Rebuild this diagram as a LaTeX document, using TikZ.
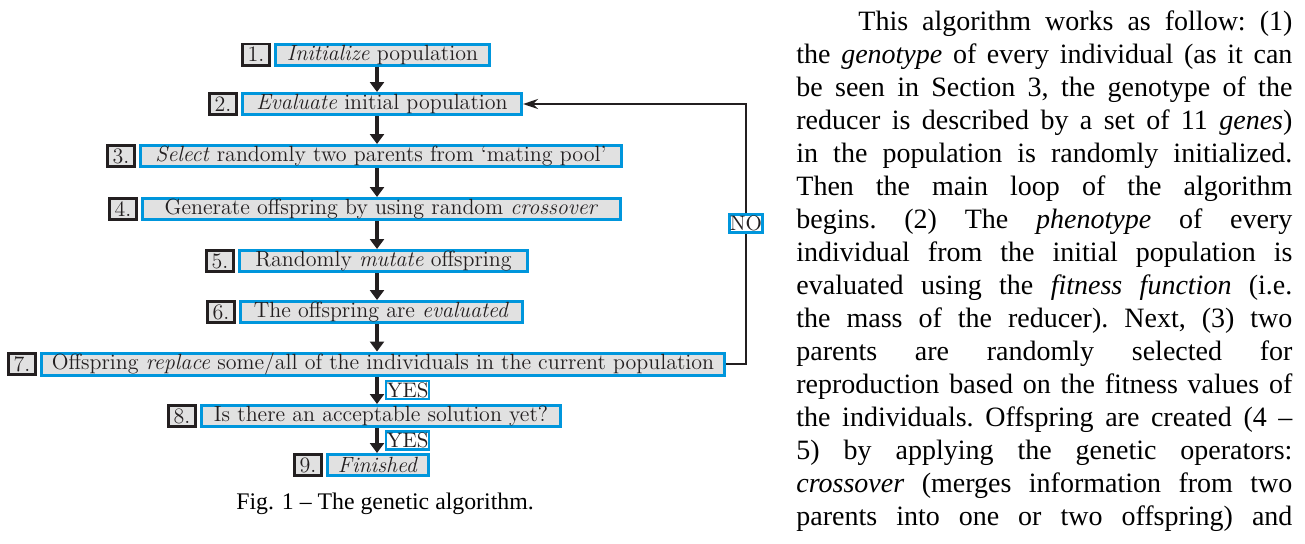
\documentclass[tikz,border=0pt]{standalone}
\usepackage{fontspec}
\newfontfamily\bodyfont{Liberation Serif}
\usepackage{tikz}
\usetikzlibrary{arrows.meta, positioning}
\definecolor{boxblue}{RGB}{0,150,220}
\definecolor{boxgray}{RGB}{225,225,225}
\definecolor{inkblack}{RGB}{35,31,32}
\newcommand{\flowfont}{\fontsize{11}{12}\selectfont}
\newcommand{\tagfont}{\fontsize{10.5}{11}\selectfont}

\begin{document}
\begin{tikzpicture}[
    x=0.5pt, y=-0.5pt,
    stage/.style={draw=boxblue, line width=1.5pt, fill=boxgray, text=inkblack, font=\flowfont,
        inner sep=0pt, minimum height=10.5pt, minimum width=#1*0.5pt-1.5pt},
    num/.style={draw=inkblack, line width=1.3pt, fill=boxgray, text=inkblack, font=\flowfont,
        inner sep=0pt, minimum height=10.7pt, minimum width=13.7pt, left=1.5pt of #1},
    tag/.style={draw=boxblue, line width=1.2pt, fill=white, text=inkblack, font=\tagfont,
        inner sep=0.3pt, minimum height=9pt},
    arr/.style={-{Triangle[length=5pt,width=7pt]}, line width=1.7pt, inkblack},
    back/.style={-{Stealth[length=7.5pt,width=5pt]}, line width=1.4pt, inkblack}
]
\useasboundingbox (0,0) rectangle (1305,543);

% flow chart
\node[stage=217] (s1) at (382.5,54.5) {\textit{Initialize} population};
\node[stage=282] (s2) at (382,104) {\textit{Evaluate} initial population};
\node[stage=484] (s3) at (381,156) {\textit{Select} randomly two parents from ‘mating pool’};
\node[stage=481] (s4) at (381.5,209) {Generate offspring by using random \textit{crossover}};
\node[stage=291] (s5) at (383.5,261) {Randomly \textit{mutate} offspring};
\node[stage=285] (s6) at (381.5,312) {The offspring are \textit{evaluated}};
\node[stage=686] (s7) at (383,364) {Offspring \textit{replace} some/all of the individuals in the current population};
\node[stage=362] (s8) at (381,416) {Is there an acceptable solution yet?};
\node[stage=104] (s9) at (378,465) {\textit{Finished}};

\foreach \i in {1,...,9}
    \node[num=s\i] (n\i) {\i.};

\coordinate (spine) at (377,0);
\coordinate (loop) at (746,0);

\foreach \a/\b in {s1/s2, s2/s3, s3/s4, s4/s5, s5/s6, s6/s7}
    \draw[arr] (\a.south -| spine) -- (\b.north -| spine);
\draw[arr] (s7.south -| spine) -- node[tag, right=4pt] (yes1) {YES} (s8.north -| spine);
\draw[arr] (s8.south -| spine) -- node[tag, right=4pt] (yes2) {YES} (s9.north -| spine);

\draw[back] (s7.east) -- (s7.east -| loop) -- node[tag, pos=0.54] (no) {NO} (s2.east -| loop) -- (s2.east);

\node[font=\bodyfont\fontsize{11.9}{14}\selectfont] (caption) at (385,504) {Fig. 1 – The genetic algorithm.};

% running text
\node[anchor=base west, text width=248pt, align=justify, inner sep=0pt,
      font=\bodyfont\fontsize{14}{16.5}\selectfont] (para) at (796,30) {\frenchspacing
\hspace*{31pt}This algorithm works as follow: (1)\linebreak
the \textit{genotype} of every individual (as it can\linebreak
be seen in Section 3, the genotype of the\linebreak
reducer is described by a set of 11 \textit{genes})\linebreak
in the population is randomly initialized.\linebreak
Then the main loop of the algorithm\linebreak
begins. (2) The \textit{phenotype} of every\linebreak
individual from the initial population is\linebreak
evaluated using the \textit{fitness function} (i.e.\linebreak
the mass of the reducer). Next, (3) two\linebreak
parents are randomly selected for\linebreak
reproduction based on the fitness values of\linebreak
the individuals. Offspring are created (4 –\linebreak
5) by applying the genetic operators:\linebreak
\textit{crossover} (merges information from two\linebreak
parents into one or two offspring) and\parfillskip=0pt\par};
\end{tikzpicture}
\end{document}
